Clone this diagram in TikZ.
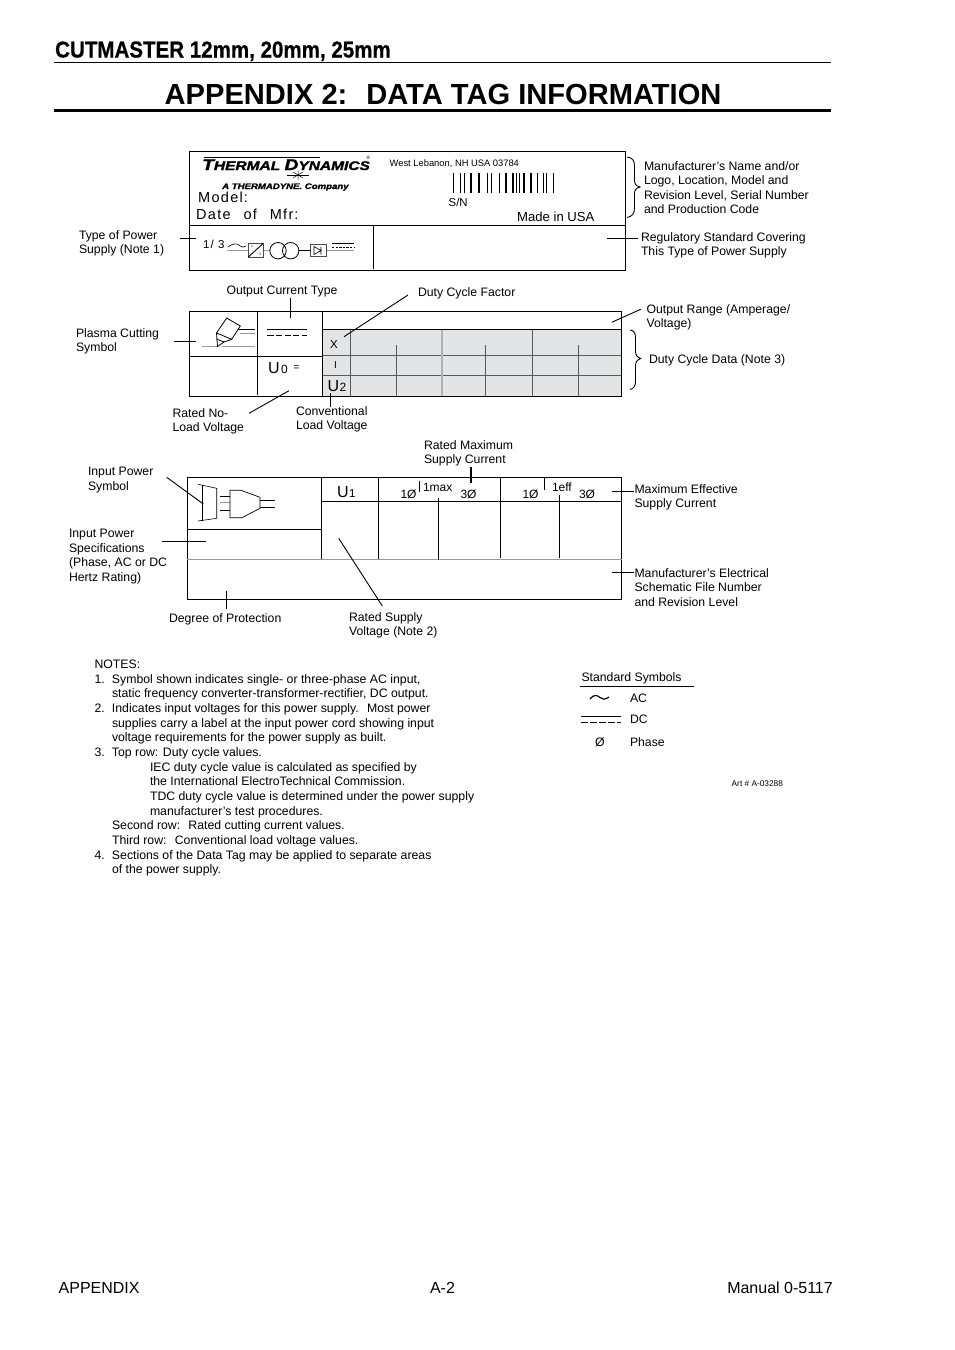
\documentclass[tikz,border=0pt]{standalone}
\usepackage{fontspec}
\setmainfont{Liberation Sans}
\newfontfamily\spaced[LetterSpace=9]{Liberation Sans}
\newfontfamily\hvy[BoldFeatures={FakeBold=1.6},BoldItalicFeatures={FakeBold=1.6}]{Liberation Sans}
\newfontfamily\hvyhd[BoldFeatures={FakeBold=0.7}]{Liberation Sans}
\usetikzlibrary{calc}
\definecolor{tagfill}{HTML}{E3E4E5}
\definecolor{softline}{HTML}{9A9A9A}
\tikzset{
  x=1pt,y=-1pt,
  lbl/.style={anchor=north west,inner sep=0pt,outer sep=0pt,align=left,font=\fontsize{12.25}{14.5}\selectfont},
  small/.style={anchor=base west,inner sep=0pt,outer sep=0pt,font=\fontsize{12}{14}\selectfont},
  tagline/.style={draw=black,line width=0.9pt},
  leader/.style={draw=black,line width=0.9pt},
  heavy/.style={draw=black,line width=1.4pt},
  soft/.style={draw=softline,line width=0.8pt},
  brace/.style={draw=black,line width=0.9pt},
  gridln/.style={draw=black!65,line width=0.6pt}
}
\begin{document}
\begin{tikzpicture}
\useasboundingbox (0,0) rectangle (954,1350);
\fill[white] (0,0) rectangle (954,1350);
% header
\node[anchor=base west,inner sep=0pt] (hd) at (55,57.5) {\scalebox{0.893}[1]{\hvyhd\fontsize{23}{26}\selectfont\bfseries CUTMASTER 12mm, 20mm, 25mm}};
\draw[line width=0.8pt] (54,62.6) -- (831,62.6);
\node[anchor=base west,inner sep=0pt] (title) at (164.5,104) {\fontsize{29.1}{34}\selectfont\bfseries APPENDIX 2:\hspace{0.28em} DATA TAG INFORMATION};
\draw[line width=2.6pt] (54,110.5) -- (831,110.5);
% first table
\draw[tagline] (189.3,151.7) rectangle (625,270);
\draw[tagline] (189.3,225.7) -- (625,225.7);
\draw[tagline] (373.3,225.7) -- (373.3,268.5);
% logo
\node[anchor=base west,inner sep=0pt] (logo) at (202,170) {\scalebox{1.24}[1]{\hvy\fontsize{15.5}{16}\selectfont\bfseries\itshape T\fontsize{12.5}{16}\selectfont HERMAL \fontsize{15.5}{16}\selectfont D\fontsize{12.5}{16}\selectfont YNAMICS}};
\node[anchor=base west,inner sep=0pt] (reg) at (366.5,162) {\fontsize{5}{6}\selectfont\textsuperscript{\textregistered}};
\draw[line width=1.2pt] (204,157.6) -- (320,157.6);
\draw[line width=0.5pt] (287,175) -- (309,175);
\draw[line width=0.5pt] (293,172) -- (303,178) (303,172) -- (293,178) (298,170.5) -- (298,179.5);
\node[anchor=base west,inner sep=0pt] (cmp) at (222,189) {\scalebox{1.2}[1]{\hvy\fontsize{8}{9}\selectfont\bfseries\itshape A THERMADYNE. Company}};
\node[anchor=base west,inner sep=0pt] (model) at (198,202) {\spaced\fontsize{14.5}{15}\selectfont Model\hspace{1pt}:};
\node[anchor=base west,inner sep=0pt] (date) at (196,219) {\spaced\fontsize{14.5}{15}\selectfont Date\hspace{7.5pt} of\hspace{7.5pt} Mfr\hspace{1pt}:};
\node[anchor=base west,inner sep=0pt] (addr) at (389.5,166.5) {\fontsize{9.35}{10}\selectfont West Lebanon, NH USA 03784};
\foreach \bx/\bw in {453.3/0.8,460.7/0.8,464/0.8,470.7/1.8,479/2.2,487.7/0.8,491.7/0.8,499.3/1.6,506/1.6,512.7/1.6,516/0.8,519.3/0.7,524/1.6,530.7/1.6,537.3/1.6,543.3/1,546.7/0.7,553.3/0.8}
  \draw[line width=\bw pt] (\bx,173) -- (\bx,192.7);
\node[anchor=base west,inner sep=0pt,font=\fontsize{11.4}{12}\selectfont] (sn) at (448.5,206.5) {S/N};
\node[anchor=base west,inner sep=0pt,font=\fontsize{13.1}{14}\selectfont] (miu) at (517,221) {Made in USA};
% supply symbol
\node[anchor=base west,inner sep=0pt,font=\spaced\fontsize{11.5}{12}\selectfont] (ot) at (203,248.5) {1/ 3};
\draw[line width=0.6pt] (228,247) .. controls (233,243) and (238,243) .. (240,246) .. controls (242,248) and (244,247) .. (246,246);
\draw[soft] (227,250.7) -- (248,250.7) (263,250.7) -- (270,250.7) (326,250.7) -- (354,250.7);
\draw[draw=black!70,line width=0.9pt,fill=white] (248.3,243.3) rectangle (263.3,257);
\draw[line width=0.9pt] (248.3,257) -- (263.3,243.3);
\node[inner sep=0pt,font=\fontsize{3.5}{4}\selectfont] (n1) at (252,246.5) {1};
\node[inner sep=0pt,font=\fontsize{3.5}{4}\selectfont] (n3) at (260,254.5) {3};
\draw[line width=0.8pt] (278,250.7) circle (8.2) (290.7,250.7) circle (8.2);
\draw[line width=0.6pt] (298.9,250.7) -- (310,250.7);
\draw[draw=black!70,line width=0.9pt] (310,244.3) rectangle (326,256.5);
\draw[line width=0.6pt] (314,246.5) -- (314,254.5) -- (321,250.5) -- cycle (321,246.5) -- (321,254.5);
\draw[line width=0.5pt] (332,243.3) -- (354,243.3);
\draw[line width=0.6pt,dash pattern=on 2.4pt off 1.2pt] (332,247) -- (354,247);
% second table
\fill[tagfill] (322.3,329.7) rectangle (621.7,396);
\draw[gridln] (322.3,355.3) -- (621.7,355.3) (322.3,375.3) -- (621.7,375.3);
\draw[gridln] (350.3,329.7) -- (350.3,396) (396.3,345) -- (396.3,396) (485.3,345) -- (485.3,396) (532.3,329.7) -- (532.3,396) (578.3,345) -- (578.3,396);
\draw[draw=black!30,line width=1.1pt] (442,329.7) -- (442,396);
\draw[tagline] (189.3,311.7) rectangle (621.7,396);
\draw[tagline] (257.3,311.7) -- (257.3,395);
\draw[tagline] (189.3,356.3) -- (322.3,356.3);
\draw[tagline] (322.3,311.7) -- (322.3,396);
\draw[tagline] (322.3,329.7) -- (621.7,329.7);
% torch
\draw[soft,line width=1pt] (240,333.7) -- (255,333.7) (202,346) -- (217,346) (222,346) -- (255,346);
\draw[line width=0.4pt] (238,329) -- (255,329);
\draw[line width=0.8pt,fill=white] (226.7,318) -- (240.3,326) -- (231.7,339.3) -- (224,342) -- (217.5,346.5) -- (216.5,333) -- cycle;
\draw[line width=0.8pt] (216.5,333) -- (231.7,339.3) (216.5,339) -- (224,342);
% DC mark
\draw[line width=0.6pt] (267.3,329.4) -- (307.3,329.4);
\draw[line width=0.7pt,dash pattern=on 6.2pt off 2.4pt] (267.3,335) -- (307.3,335);
\node[anchor=base west,inner sep=0pt,font=\fontsize{16}{18}\selectfont] (u0) at (268,373.5) {U};
\node[anchor=base west,inner sep=0pt,font=\fontsize{12}{14}\selectfont] (u0s) at (281,373.5) {0};
\node[anchor=base west,inner sep=0pt,font=\fontsize{10}{12}\selectfont] (u0e) at (293.5,370.5) {=};
\node[anchor=base west,inner sep=0pt,font=\fontsize{11.5}{14}\selectfont] (xr) at (330,348) {X};
\node[anchor=base west,inner sep=0pt,font=\fontsize{10}{12}\selectfont] (ir) at (334,368) {I};
\node[anchor=base west,inner sep=0pt,font=\fontsize{16}{18}\selectfont] (u2) at (327.5,391) {U};
\node[anchor=base west,inner sep=0pt,font=\fontsize{12}{14}\selectfont] (u2s) at (339.5,391) {2};
% third table
\draw[tagline] (187.3,477.3) rectangle (621.7,599.3);
\draw[tagline] (321.3,477.3) -- (321.3,559.5);
\draw[tagline] (187.3,529.3) -- (321.3,529.3);
\draw[tagline] (321.3,501.3) -- (621.7,501.3);
\draw[soft] (187.3,559.5) -- (621.7,559.5);
\draw[tagline] (378.3,477.3) -- (378.3,559) (500.3,477.3) -- (500.3,558) (438.3,498.3) -- (438.3,559.5) (559.3,495) -- (559.3,558);
% plug
\draw[line width=0.6pt] (198,484.3) -- (216.7,488.3) -- (216.7,518.3) -- (198,521);
\draw[line width=0.9pt] (202.7,484.7) -- (202.7,521);
\draw[line width=0.8pt] (220,496.7) -- (230,496.7) (220,510.7) -- (230,510.7);
\draw[soft,line width=1pt] (220,502.5) -- (230,502.5);
\draw[line width=0.7pt] (230,490.3) -- (241,490.3) -- (260,497.3) -- (260,508.3) -- (242,517.7) -- (230,517.7) -- cycle;
\draw[line width=0.6pt] (260,500) -- (275,500) (260,507.3) -- (275,507.3);
\node[anchor=base west,inner sep=0pt,font=\fontsize{16}{18}\selectfont] (u1) at (337,497) {U};
\node[anchor=base west,inner sep=0pt,font=\fontsize{11.5}{14}\selectfont] (u1s) at (349,497) {1};
\node[small] (p1) at (400.5,498.5) {1Ø};
\node[small] (p2) at (460.5,498.5) {3Ø};
\node[small] (p3) at (522.5,498.5) {1Ø};
\node[small] (p4) at (579,498.5) {3Ø};
\draw[line width=0.9pt] (419,480.5) -- (419,491.5);
\draw[line width=0.9pt] (544.7,478) -- (544.7,490);
\node[small] (imax) at (423,491.5) {1max};
\node[small] (ieff) at (552,491.5) {1eff};
% labels
\node[lbl] (t1) at (644,161.5) {Manufacturer's Name and/or\\Logo, Location, Model and\\Revision Level, Serial Number\\and Production Code};
\node[lbl] (t2) at (79,230.5) {Type of Power\\Supply (Note 1)};
\node[lbl] (t3) at (641,232.5) {Regulatory Standard Covering\\This Type of Power Supply};
\node[lbl] (t4) at (226.5,285.5) {Output Current Type};
\node[lbl] (t5) at (418,287.5) {Duty Cycle Factor};
\node[lbl] (t6) at (646.5,304.5) {Output Range (Amperage/\\Voltage)};
\node[lbl] (t7) at (76,328.5) {Plasma Cutting\\Symbol};
\node[lbl] (t8) at (649,354.5) {Duty Cycle Data (Note 3)};
\node[lbl] (t9) at (172.5,408.5) {Rated No-\\Load Voltage};
\node[lbl] (t10) at (296,406.5) {Conventional\\Load Voltage};
\node[lbl] (t11) at (424,440.5) {Rated Maximum\\Supply Current};
\node[lbl] (t12) at (88,467.5) {Input Power\\Symbol};
\node[lbl] (t13) at (634.5,484.5) {Maximum Effective\\Supply Current};
\node[lbl] (t14) at (69,529.5) {Input Power\\Specifications\\(Phase, AC or DC\\Hertz Rating)};
\node[lbl] (t15) at (634.5,568.5) {Manufacturer's Electrical\\Schematic File Number\\and Revision Level};
\node[lbl] (t16) at (169,613.5) {Degree of Protection};
\node[lbl] (t17) at (349,612.5) {Rated Supply\\Voltage (Note 2)};
% leaders
\coordinate (c2) at (196,238.7);
\coordinate (c2b) at (180,238.7);
\draw[heavy] (c2b) -- (c2);
\coordinate (c3) at (607,238.5); \coordinate (c3b) at (638,238.5);
\draw[leader] (c3) -- (c3b);
\coordinate (c4) at (290,298.3); \coordinate (c4b) at (290,318);
\draw[leader] (c4) -- (c4b);
\coordinate (c5) at (408,295); \coordinate (c5b) at (344,336.7);
\draw[leader] (c5) -- (c5b);
\coordinate (c6) at (640.7,309.3); \coordinate (c6b) at (611.7,322.3);
\draw[leader] (c6) -- (c6b);
\coordinate (c7) at (174,341.7); \coordinate (c7b) at (196,341.7);
\draw[heavy] (c7) -- (c7b);
\coordinate (c9) at (249,413.3); \coordinate (c9b) at (289,390.7);
\draw[leader] (c9) -- (c9b);
\coordinate (c10) at (330.3,393); \coordinate (c10b) at (330.3,406.7);
\draw[heavy] (c10) -- (c10b);
\coordinate (c11) at (471,467.3); \coordinate (c11b) at (471,482.7);
\draw[heavy] (c11) -- (c11b);
\coordinate (c12) at (166.7,477.3); \coordinate (c12b) at (203.3,504);
\draw[leader] (c12) -- (c12b);
\coordinate (c13) at (611.7,491); \coordinate (c13b) at (634,491);
\draw[leader] (c13) -- (c13b);
\coordinate (c14) at (162,541); \coordinate (c14b) at (205.7,541);
\draw[leader] (c14) -- (c14b);
\coordinate (c15) at (611.7,572.7); \coordinate (c15b) at (634,572.7);
\draw[leader] (c15) -- (c15b);
\coordinate (c16) at (226.3,591); \coordinate (c16b) at (226.3,609);
\draw[leader] (c16) -- (c16b);
\coordinate (c17) at (338.7,538.3); \coordinate (c17b) at (382.3,606);
\draw[leader] (c17) -- (c17b);
% braces
\draw[brace] (627,157) .. controls (632,157.5) and (634.5,160) .. (634.5,166) -- (634.5,180) .. controls (634.5,184) and (636,186) .. (640,187) .. controls (636,188) and (634.5,190) .. (634.5,194) -- (634.5,208) .. controls (634.5,214) and (632,216.5) .. (627,217.5);
\draw[brace] (630,330) .. controls (634,330.5) and (635.5,333) .. (635.5,338) -- (635.5,351) .. controls (635.5,355) and (637,357) .. (640.7,358.5) .. controls (637,360) and (635.5,362) .. (635.5,366) -- (635.5,381) .. controls (635.5,386) and (634,388.5) .. (630,389.5);
% notes
\node[lbl,font=\fontsize{12.28}{14.65}\selectfont] (notes) at (94.5,660) {NOTES:\\
\makebox[17.5pt][l]{1.}Symbol shown indicates single- or three-phase AC input,\\
\hspace*{17.5pt}static frequency converter-transformer-rectifier, DC output.\\
\makebox[17.5pt][l]{2.}Indicates input voltages for this power supply.\hspace{0.3em} Most power\\
\hspace*{17.5pt}supplies carry a label at the input power cord showing input\\
\hspace*{17.5pt}voltage requirements for the power supply as built.\\
\makebox[17.5pt][l]{3.}Top row: Duty cycle values.\\
\hspace*{55.5pt}IEC duty cycle value is calculated as specified by\\
\hspace*{55.5pt}the International ElectroTechnical Commission.\\
\hspace*{55.5pt}TDC duty cycle value is determined under the power supply\\
\hspace*{55.5pt}manufacturer's test procedures.\\
\hspace*{17.5pt}Second row:\hspace{0.3em} Rated cutting current values.\\
\hspace*{17.5pt}Third row:\hspace{0.3em} Conventional load voltage values.\\
\makebox[17.5pt][l]{4.}Sections of the Data Tag may be applied to separate areas\\
\hspace*{17.5pt}of the power supply.};
% standard symbols
\node[lbl] (ss) at (581.5,672.5) {Standard Symbols};
\draw[line width=0.8pt] (580,686.3) -- (694,686.3);
\draw[line width=1.2pt] (590,699) .. controls (594,694) and (597,695) .. (600,697.5) .. controls (602,699.5) and (605,700) .. (609,697);
\node[lbl] (ac) at (630,693.5) {AC};
\draw[line width=0.7pt] (581,716) -- (621,716);
\draw[line width=0.7pt,dash pattern=on 6.5pt off 2.6pt] (581,722.3) -- (621,722.3);
\node[lbl] (dc) at (630,714.5) {DC};
\node[lbl] (ph) at (595,737.5) {Ø};
\node[lbl] (pht) at (630,737.5) {Phase};
\node[anchor=base west,inner sep=0pt,font=\fontsize{8.3}{9}\selectfont] (art) at (731.5,786) {Art \# A-03288};
% footer
\node[anchor=base west,inner sep=0pt,font=\fontsize{16}{18}\selectfont] (f1) at (58.5,1293) {APPENDIX};
\node[anchor=base,inner sep=0pt,font=\fontsize{16}{18}\selectfont] (f2) at (442.5,1293) {A-2};
\node[anchor=base east,inner sep=0pt,font=\fontsize{16}{18}\selectfont] (f3) at (833,1293) {Manual 0-5117};
\end{tikzpicture}
\end{document}
